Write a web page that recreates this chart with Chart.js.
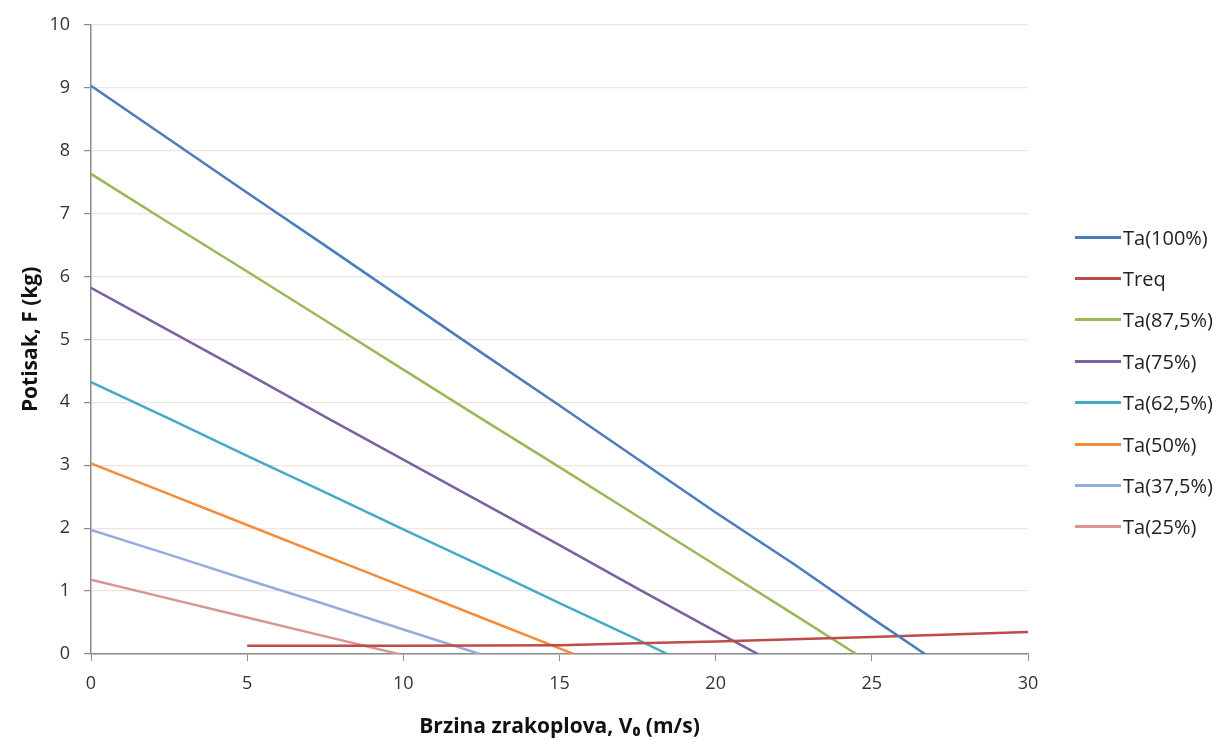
<!DOCTYPE html>
<html>
<head>
<meta charset="utf-8">
<script src="https://cdn.jsdelivr.net/npm/chart.js@4.4.0/dist/chart.umd.min.js"></script>
<style>
  html, body { margin: 0; padding: 0; background: #ffffff; }
  #wrap { position: relative; width: 1219px; height: 740px; }
  #legenda { position: absolute; left: 1075px; top: 0; font-family: "Open Sans", sans-serif; font-size: 20px; color: #222; }
  .item { position: absolute; left: 0; height: 30px; display: flex; align-items: center; white-space: nowrap; }
  .linea { width: 46px; height: 3px; margin-right: 2px; }
</style>
</head>
<body>
<div id="wrap">
  <canvas id="grafica" width="1219" height="740"></canvas>
  <div id="legenda"></div>
</div>
<script>
// Datos (V0 en m/s, F en kg)
const vTa100 = [0, 2.5, 5, 7.5, 10, 12.5, 15, 17.5, 20, 22.5, 25, 26.7];
const fTa100 = [9.03, 8.18, 7.33, 6.49, 5.64, 4.79, 3.95, 3.1, 2.25, 1.43, 0.57, 0];

const vTreq = [5, 10, 15, 17.5, 20, 22.5, 25, 27.5, 30];
const fTreq = [0.13, 0.13, 0.14, 0.17, 0.2, 0.235, 0.27, 0.31, 0.35];

const vTa875 = [0, 2.5, 5, 7.5, 10, 12.5, 15, 17.5, 20, 22.5, 24.5];
const fTa875 = [7.63, 6.85, 6.08, 5.3, 4.52, 3.74, 2.97, 2.19, 1.41, 0.63, 0];

const vTa75 = [0, 2.5, 5, 7.5, 10, 12.5, 15, 17.5, 20, 21.35];
const fTa75 = [5.82, 5.14, 4.46, 3.77, 3.09, 2.41, 1.73, 1.04, 0.36, 0];

const vTa625 = [0, 2.5, 5, 7.5, 10, 12.5, 15, 17.5, 18.45];
const fTa625 = [4.32, 3.74, 3.15, 2.57, 1.98, 1.4, 0.81, 0.23, 0];

const vTa50 = [0, 2.5, 5, 7.5, 10, 12.5, 15, 15.45];
const fTa50 = [3.03, 2.54, 2.05, 1.56, 1.07, 0.58, 0.09, 0];

const vTa375 = [0, 2.5, 5, 7.5, 10, 12.45];
const fTa375 = [1.97, 1.58, 1.18, 0.79, 0.39, 0];

const vTa25 = [0, 2.5, 5, 7.5, 9.85];
const fTa25 = [1.18, 0.88, 0.58, 0.28, 0];

const nombres = ['Ta(100%)', 'Treq', 'Ta(87,5%)', 'Ta(75%)', 'Ta(62,5%)', 'Ta(50%)', 'Ta(37,5%)', 'Ta(25%)'];
const colores = ['#4A7EBB', '#BE4B48', '#98B954', '#7D60A0', '#46AAC5', '#F38C3B', '#94AEDB', '#D99593'];
const seriesV = [vTa100, vTreq, vTa875, vTa75, vTa625, vTa50, vTa375, vTa25];
const seriesF = [fTa100, fTreq, fTa875, fTa75, fTa625, fTa50, fTa375, fTa25];

const ticksX = [0, 5, 10, 15, 20, 25, 30];

const juntar = (vs, fs) => vs.map((v, i) => ({ x: v, y: fs[i] }));

const datasets = nombres.map((n, i) => ({
    label: n,
    data: juntar(seriesV[i], seriesF[i]),
    borderColor: colores[i],
    backgroundColor: colores[i],
    borderWidth: 2.5,
    pointRadius: 0,
    tension: 0,
    fill: false
}));

const fuenteTicks = { family: '"Open Sans", sans-serif', size: 18 };
const fuenteTitulo = { family: '"Open Sans", sans-serif', size: 21, weight: 'bold' };

const ctx = document.getElementById('grafica').getContext('2d');
const grafica = new Chart(ctx, {
    type: 'line',
    data: { datasets: datasets },
    options: {
        responsive: false,
        animation: false,
        layout: { padding: { top: 22, right: 191, bottom: 0, left: 18 } },
        plugins: {
            legend: { display: false },
            tooltip: { enabled: false }
        },
        scales: {
            x: {
                type: 'linear',
                min: 0,
                max: 30,
                afterBuildTicks: (eje) => { eje.ticks = ticksX.map(v => ({ value: v })); },
                afterFit: (eje) => { eje.height = 86; },
                ticks: { color: '#333', font: fuenteTicks, padding: 12, maxRotation: 0 },
                grid: { drawOnChartArea: false, tickLength: 7, tickColor: '#8c8c8c' },
                border: { color: '#8c8c8c', width: 1.5 },
                title: {
                    display: true,
                    text: 'Brzina zrakoplova, V₀ (m/s)',
                    color: '#111',
                    font: fuenteTitulo,
                    padding: { top: 0, bottom: 0 }
                }
            },
            y: {
                min: 0,
                max: 10,
                afterFit: (eje) => { eje.width = 73; },
                ticks: { stepSize: 1, color: '#333', font: fuenteTicks, padding: 14 },
                grid: { color: '#F0E4E4', lineWidth: 1.2, tickLength: 7, tickColor: '#8c8c8c' },
                border: { color: '#8c8c8c', width: 1.5 },
                title: {
                    display: true,
                    text: 'Potisak, F (kg)',
                    color: '#111',
                    font: fuenteTitulo,
                    padding: { top: 0, bottom: 0 }
                }
            }
        }
    }
});

// Leyenda a la derecha
const leyenda = document.getElementById('legenda');
nombres.forEach((n, i) => {
    const fila = document.createElement('div');
    fila.className = 'item';
    fila.style.top = (222 + i * 41.4) + 'px';
    fila.innerHTML = '<span class="linea" style="background:' + colores[i] + '"></span><span>' + n + '</span>';
    leyenda.appendChild(fila);
});
</script>
</body>
</html>
